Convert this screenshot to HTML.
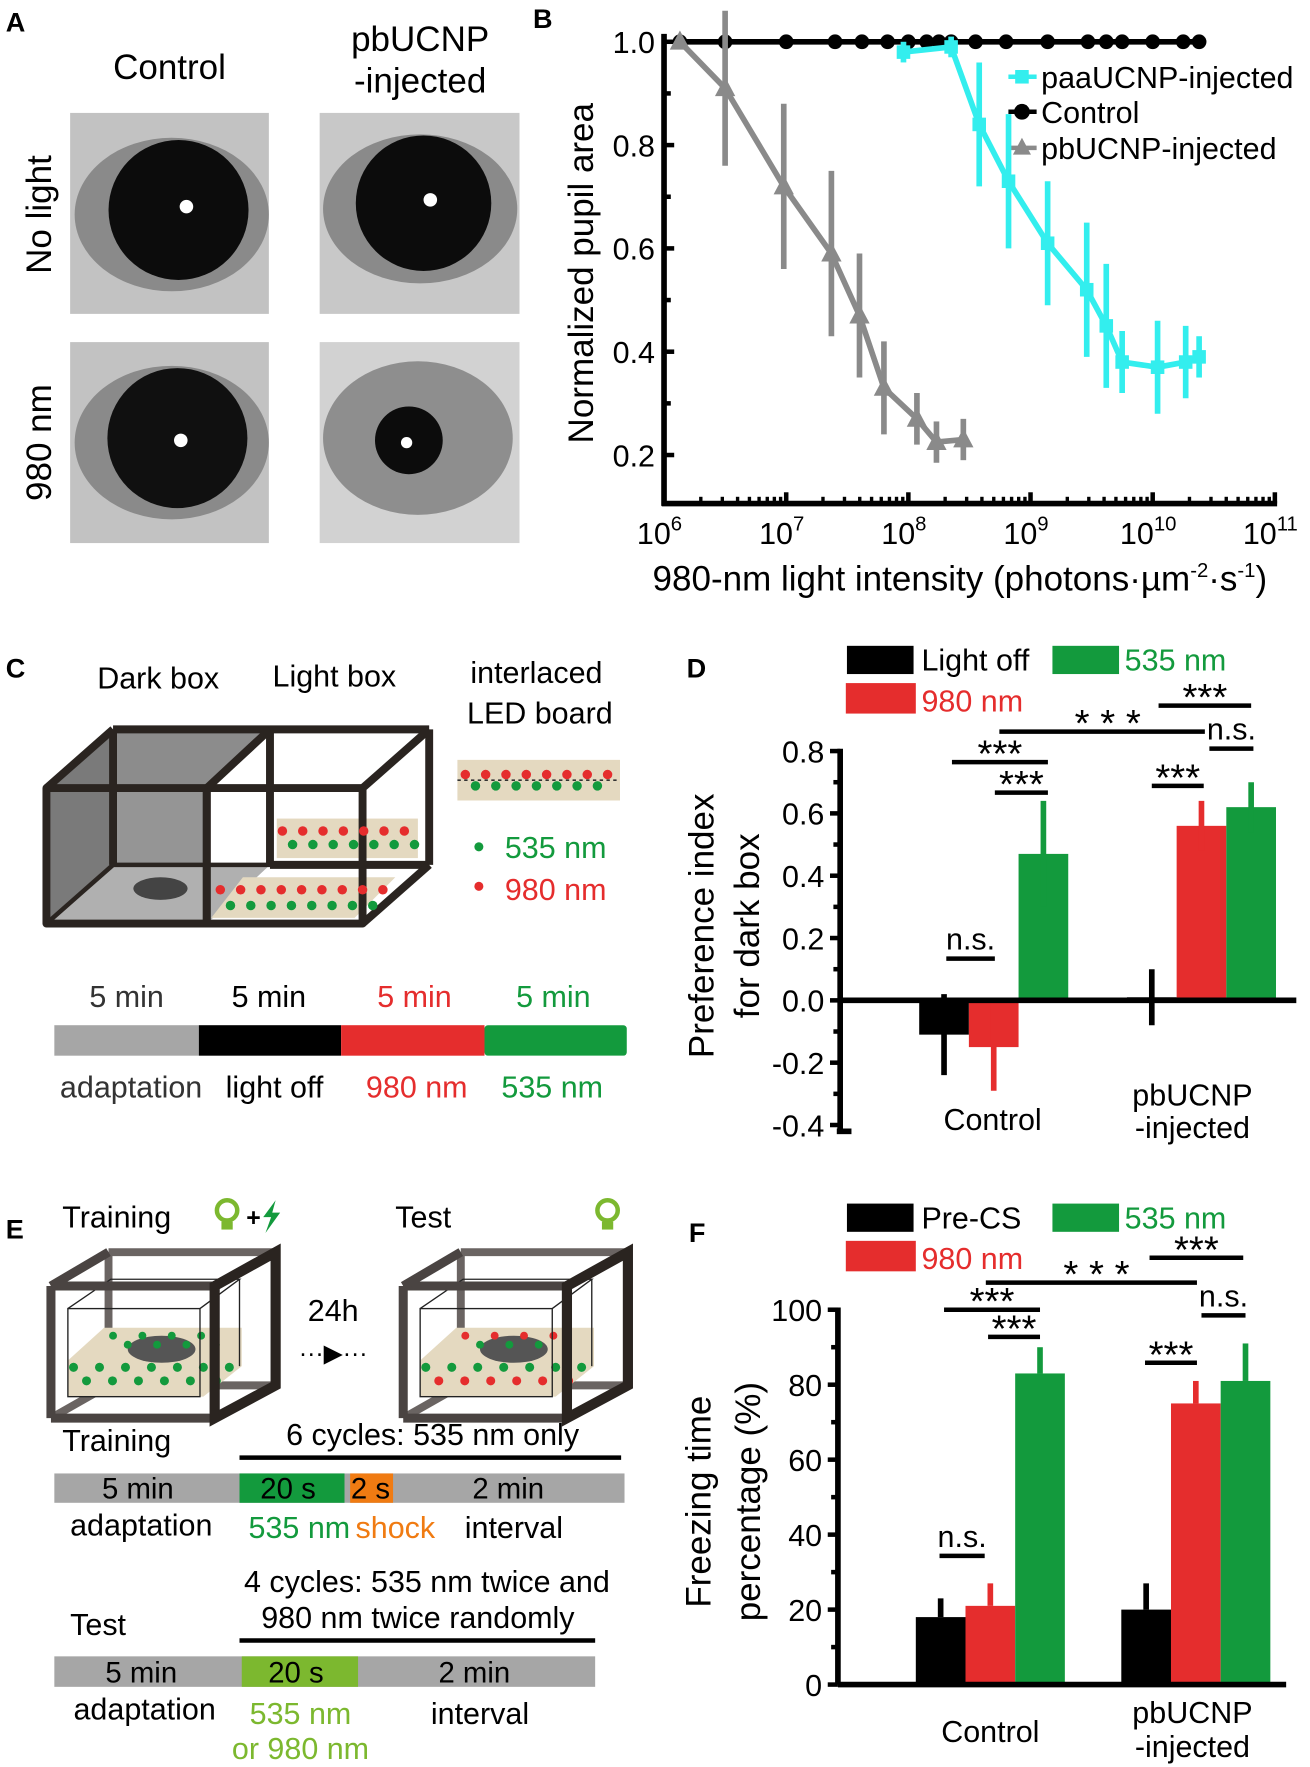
<!DOCTYPE html>
<html><head><meta charset="utf-8">
<style>
html,body{margin:0;padding:0;background:#fff;}
svg{display:block;font-family:"Liberation Sans",Arial,sans-serif;}
</style></head>
<body>
<svg id="fig" width="1310" height="1767" viewBox="0 0 1160 1565" xmlns="http://www.w3.org/2000/svg">
<rect width="1160" height="1565" fill="#fff"/>
<!-- Panel A -->
<g>
<text x="5" y="28" font-size="24" font-weight="bold">A</text>
<text x="150" y="70" font-size="31" text-anchor="middle">Control</text>
<text x="372" y="45" font-size="31" text-anchor="middle">pbUCNP</text>
<text x="372" y="82" font-size="31" text-anchor="middle">-injected</text>
<text transform="translate(45,190) rotate(-90)" font-size="31" text-anchor="middle">No light</text>
<text transform="translate(45,392) rotate(-90)" font-size="31" text-anchor="middle">980 nm</text>
<g>
<rect x="62" y="100" width="176" height="178" fill="#c2c2c2"/>
<ellipse cx="152" cy="190" rx="86" ry="68" fill="#8a8a8a"/>
<circle cx="158" cy="186" r="62" fill="#0c0c0c"/><circle cx="165" cy="183" r="6" fill="#fff"/></g>
<g>
<rect x="283" y="100" width="177" height="178" fill="#c8c8c8"/>
<ellipse cx="372" cy="185" rx="86" ry="66" fill="#8a8a8a"/>
<circle cx="375" cy="180" r="60" fill="#0c0c0c"/><circle cx="381" cy="177" r="6" fill="#fff"/></g>
<g>
<rect x="62" y="303" width="176" height="178" fill="#c2c2c2"/>
<ellipse cx="152" cy="392" rx="86" ry="68" fill="#8a8a8a"/>
<circle cx="157" cy="388" r="62" fill="#101010"/><circle cx="160" cy="390" r="6" fill="#fff"/></g>
<g>
<rect x="283" y="303" width="177" height="178" fill="#d2d2d2"/>
<ellipse cx="370" cy="388" rx="84" ry="68" fill="#8e8e8e"/>
<circle cx="362" cy="390" r="30" fill="#0c0c0c"/><circle cx="360" cy="392" r="5" fill="#fff"/></g>
</g>
<!-- Panel B -->
<g id="panelB">
<text x="472" y="25" font-size="24" font-weight="bold">B</text>
<text transform="translate(525,242) rotate(-90)" font-size="31" text-anchor="middle">Normalized pupil area</text>
<text x="850" y="523" font-size="31" text-anchor="middle">980-nm light intensity (photons·µm<tspan dy="-12" font-size="18">-2</tspan><tspan dy="12">·s</tspan><tspan dy="-12" font-size="18">-1</tspan><tspan dy="12">)</tspan></text>
<g>
<line x1="893" y1="68" x2="918" y2="68" stroke="#33eeee" stroke-width="4"/><rect x="899" y="62" width="12" height="12" fill="#33eeee"/>
<text x="922" y="78" font-size="27">paaUCNP-injected</text>
<line x1="893" y1="99" x2="918" y2="99" stroke="#000" stroke-width="4"/><circle cx="905" cy="99" r="7"/>
<text x="922" y="109" font-size="27">Control</text>
<line x1="893" y1="131" x2="918" y2="131" stroke="#8a8a8a" stroke-width="4"/><polygon points="905,122 913,137 897,137" fill="#8a8a8a"/>
<text x="922" y="141" font-size="27">pbUCNP-injected</text>
</g>
</g>
<!-- Panel C -->
<g>
<text x="5" y="600" font-size="24" font-weight="bold">C</text>
<text x="140" y="610" font-size="27" text-anchor="middle">Dark box</text>
<text x="296" y="608" font-size="27" text-anchor="middle">Light box</text>
<text x="475" y="605" font-size="27" text-anchor="middle">interlaced</text>
<text x="478" y="641" font-size="27" text-anchor="middle">LED board</text>
<g>
<polygon points="41,698 100,646 239,646 183,698" fill="#8c8c8c"/>
<rect x="41" y="698" width="142" height="120" fill="#959595"/>
<polygon points="41,698 100,646 100,766 41,818" fill="#7a7a7a"/>
<polygon points="100,766 239,766 183,818 41,818" fill="#b0b0b0"/>
<rect x="245" y="725" width="125" height="35" fill="#e4d9c0"/>
<polygon points="187,813 314,813 350,777 215,777" fill="#e4d9c0"/>
<ellipse cx="142" cy="787" rx="24" ry="10" fill="#444"/>
<g stroke="#2a2420" stroke-width="7" fill="none" stroke-linejoin="round">
<rect x="41" y="698" width="142" height="120"/>
<line x1="41" y1="698" x2="100" y2="646"/><line x1="100" y1="646" x2="380" y2="646"/><line x1="100" y1="646" x2="100" y2="766"/>
<line x1="100" y1="766" x2="239" y2="766" stroke-width="4"/>
<line x1="41" y1="818" x2="100" y2="766" stroke-width="4"/>
<rect x="183" y="698" width="138" height="120"/>
<line x1="183" y1="698" x2="239" y2="646"/><line x1="239" y1="646" x2="239" y2="766"/><line x1="239" y1="766" x2="380" y2="766"/>
<line x1="321" y1="698" x2="380" y2="646"/>
<line x1="380" y1="646" x2="380" y2="766"/><line x1="321" y1="818" x2="380" y2="766"/>
</g>
</g>
<rect x="405" y="673" width="144" height="36" fill="#e4d9c0"/>
<g id="leds"></g>
<circle cx="424" cy="750" r="4" fill="#139a3d"/><text x="447" y="760" font-size="27" fill="#139a3d">535 nm</text>
<circle cx="424" cy="785" r="4" fill="#e52d2d"/><text x="447" y="797" font-size="27" fill="#e52d2d">980 nm</text>
<text x="112" y="892" font-size="27" text-anchor="middle" fill="#333">5 min</text>
<text x="238" y="892" font-size="27" text-anchor="middle">5 min</text>
<text x="367" y="892" font-size="27" text-anchor="middle" fill="#e52d2d">5 min</text>
<text x="490" y="892" font-size="27" text-anchor="middle" fill="#139a3d">5 min</text>
<rect x="48" y="908" width="128" height="27" fill="#a6a6a6"/>
<rect x="176" y="908" width="126" height="27" fill="#000"/>
<rect x="302" y="908" width="127" height="27" fill="#e52d2d"/>
<rect x="429" y="908" width="126" height="27" fill="#139a3d" rx="3"/>
<text x="116" y="972" font-size="27" text-anchor="middle" fill="#333">adaptation</text>
<text x="243" y="972" font-size="27" text-anchor="middle">light off</text>
<text x="369" y="972" font-size="27" text-anchor="middle" fill="#e52d2d">980 nm</text>
<text x="489" y="972" font-size="27" text-anchor="middle" fill="#139a3d">535 nm</text>
</g>
<!-- Panel E -->
<g id="panelE">
<text x="5" y="1097" font-size="24" font-weight="bold">E</text>
<text x="55" y="1087" font-size="27">Training</text>
<g><circle cx="201" cy="1072" r="9" fill="none" stroke="#7cb82f" stroke-width="4"/><rect x="196" y="1082" width="10" height="7" fill="#7cb82f"/></g>
<text x="218" y="1086" font-size="22" font-weight="bold">+</text>
<polygon points="244,1063 233,1078 240,1078 235,1092 248,1074 241,1074" fill="#139a3d"/>
<text x="350" y="1087" font-size="27">Test</text>
<g><circle cx="538" cy="1072" r="9" fill="none" stroke="#7cb82f" stroke-width="4"/><rect x="533" y="1082" width="10" height="7" fill="#7cb82f"/></g>
<g id="cubes"></g>
<text x="295" y="1170" font-size="27" text-anchor="middle">24h</text>
<text x="295" y="1206" font-size="22" text-anchor="middle">···▶···</text>
<text x="55" y="1285" font-size="27">Training</text>
<text x="383" y="1280" font-size="27" text-anchor="middle">6 cycles: 535 nm only</text>
<line x1="212" y1="1291" x2="550" y2="1291" stroke="#000" stroke-width="4"/>
<rect x="48" y="1305" width="505" height="26" fill="#a6a6a6"/>
<rect x="212" y="1305" width="93" height="26" fill="#139a3d"/>
<rect x="310" y="1305" width="38" height="26" fill="#f07b12"/>
<text x="122" y="1327" font-size="26" text-anchor="middle">5 min</text>
<text x="255" y="1327" font-size="26" text-anchor="middle">20 s</text>
<text x="328" y="1327" font-size="26" text-anchor="middle">2 s</text>
<text x="450" y="1327" font-size="26" text-anchor="middle">2 min</text>
<text x="125" y="1360" font-size="27" text-anchor="middle">adaptation</text>
<text x="265" y="1362" font-size="27" text-anchor="middle" fill="#139a3d">535 nm</text>
<text x="350" y="1362" font-size="27" text-anchor="middle" fill="#f07b12">shock</text>
<text x="455" y="1362" font-size="27" text-anchor="middle">interval</text>
<text x="378" y="1410" font-size="27" text-anchor="middle">4 cycles: 535 nm twice and</text>
<text x="370" y="1442" font-size="27" text-anchor="middle">980 nm twice randomly</text>
<text x="62" y="1448" font-size="27">Test</text>
<line x1="212" y1="1453" x2="527" y2="1453" stroke="#000" stroke-width="4"/>
<rect x="48" y="1467" width="479" height="27" fill="#a6a6a6"/>
<rect x="214" y="1467" width="103" height="27" fill="#7cb82f"/>
<text x="125" y="1490" font-size="26" text-anchor="middle">5 min</text>
<text x="262" y="1490" font-size="26" text-anchor="middle">20 s</text>
<text x="420" y="1490" font-size="26" text-anchor="middle">2 min</text>
<text x="128" y="1523" font-size="27" text-anchor="middle">adaptation</text>
<text x="266" y="1527" font-size="27" text-anchor="middle" fill="#7cb82f">535 nm</text>
<text x="266" y="1558" font-size="27" text-anchor="middle" fill="#7cb82f">or 980 nm</text>
<text x="425" y="1527" font-size="27" text-anchor="middle">interval</text>
</g>
<g id="panelD">
<text x="608" y="600" font-size="24" font-weight="bold">D</text>
<text transform="translate(632,820) rotate(-90)" font-size="31" text-anchor="middle">Preference index</text>
<text transform="translate(672,820) rotate(-90)" font-size="31" text-anchor="middle">for dark box</text>
</g>
<g id="panelF">
<text x="610" y="1100" font-size="24" font-weight="bold">F</text>
<text transform="translate(629,1330) rotate(-90)" font-size="31" text-anchor="middle">Freezing time</text>
<text transform="translate(673,1330) rotate(-90)" font-size="31" text-anchor="middle">percentage (%)</text>
</g>
</svg>
<script>
const NS="http://www.w3.org/2000/svg";
function mk(parent,tag,attrs,txt){const e=document.createElementNS(NS,tag);for(const k in attrs)e.setAttribute(k,attrs[k]);if(txt!==undefined)e.textContent=txt;parent.appendChild(e);return e;}

// ---------- Panel B data ----------
const ctrlLogX=[6.13,6.5,7.0,7.4,7.62,7.83,8.0,8.15,8.25,8.35,8.55,8.8,9.14,9.47,9.62,9.75,10.0,10.25,10.38];
const ctrlY=[1,1,1,1,1,1,1,1,1,1,1,1,1,1,1,1,1,1,1];
const pbLogX=[6.13,6.5,6.98,7.37,7.6,7.8,8.07,8.23,8.45];
const pbY=[1.0,0.91,0.72,0.59,0.47,0.33,0.27,0.225,0.23];
const pbErr=[0,0.15,0.16,0.16,0.12,0.09,0.05,0.04,0.04];
const paaLogX=[7.96,8.35,8.58,8.82,9.14,9.46,9.62,9.75,10.04,10.27,10.38];
const paaY=[0.98,0.99,0.84,0.73,0.61,0.52,0.45,0.38,0.37,0.38,0.39];
const paaErr=[0.02,0.02,0.12,0.13,0.12,0.13,0.12,0.06,0.09,0.07,0.04];
const bYTicks=[0.2,0.4,0.6,0.8,1.0];
const bXTicks=[6,7,8,9,10,11];

(function(){
 const g=document.getElementById('panelB');
 const X=v=>588+(v-6)*108.2, Y=v=>37+(1-v)*457.5;
 mk(g,'line',{x1:588,y1:30,x2:588,y2:448,stroke:'#000','stroke-width':5});
 mk(g,'line',{x1:586,y1:446,x2:1131,y2:446,stroke:'#000','stroke-width':5});
 bYTicks.forEach(t=>{mk(g,'line',{x1:588,y1:Y(t),x2:597,y2:Y(t),stroke:'#000','stroke-width':4});
  const tx=mk(g,'text',{x:580,y:Y(t)+10,'font-size':27,'text-anchor':'end'},t.toFixed(1));
  
  });
 [0.3,0.5,0.7,0.9].forEach(t=>mk(g,'line',{x1:588,y1:Y(t),x2:594,y2:Y(t),stroke:'#000','stroke-width':4}));
 bXTicks.forEach(d=>{
  if(d<11)for(let m=2;m<10;m++){const x=X(d+Math.log10(m));mk(g,'line',{x1:x,y1:446,x2:x,y2:440,stroke:'#000','stroke-width':3});}
  mk(g,'line',{x1:X(d),y1:446,x2:X(d),y2:436,stroke:'#000','stroke-width':4});
  const tx=mk(g,'text',{x:X(d)-4,y:482,'font-size':27,'text-anchor':'middle'});
  
  
  mk(tx,'tspan',{},'10');mk(tx,'tspan',{dy:-12,'font-size':18},String(d));
 });
 function series(lx,ly,err,col,shape,name){
  const s=mk(g,'g',{});
  
  
  mk(s,'polyline',{points:lx.map((v,i)=>X(v)+','+Y(ly[i])).join(' '),fill:'none',stroke:col,'stroke-width':5});
  lx.forEach((v,i)=>{const x=X(v),y=Y(ly[i]);
   if(err&&err[i])mk(s,'line',{x1:x,y1:Y(ly[i]+err[i]),x2:x,y2:Y(ly[i]-err[i]),stroke:col,'stroke-width':5});
   if(shape==='c')mk(s,'circle',{cx:x,cy:y,r:6.5,fill:col});
   else if(shape==='s')mk(s,'rect',{x:x-6,y:y-6,width:12,height:12,fill:col});
   else mk(s,'polygon',{points:`${x},${y-10} ${x+9},${y+7} ${x-9},${y+7}`,fill:col});
  });
 }
 series(ctrlLogX,ctrlY,null,'#000','c','control-series');
 series(pbLogX,pbY,pbErr,'#8a8a8a','t','pbucnp-series');
 series(paaLogX,paaY,paaErr,'#33eeee','s','paaucnp-series');
})();

// ---------- Panel D data ----------
const dGroups=['Control','pbUCNP'];
const dLightOff=[-0.11,0.01];
const dLightOffErr=[0.13,0.09];
const d980=[-0.15,0.56];
const d980Err=[0.14,0.08];
const d535=[0.47,0.62];
const d535Err=[0.17,0.08];
const dTicks=[-0.4,-0.2,0.0,0.2,0.4,0.6,0.8];

// ---------- Panel F data ----------
const fPreCS=[18,20];
const fPreCSErr=[5,7];
const f980=[21,75];
const f980Err=[6,6];
const f535=[83,81];
const f535Err=[7,10];
const fTicks=[0,20,40,60,80,100];

function barChart(id,cfg){
 const g=document.getElementById(id);
 const Y=cfg.Y;
 mk(g,'line',{x1:cfg.ax,y1:Y(cfg.top)-2,x2:cfg.ax,y2:cfg.bottom,stroke:'#000','stroke-width':5});
 if(cfg.zeroLine)mk(g,'line',{x1:cfg.ax-3,y1:cfg.bottom,x2:cfg.ax+10,y2:cfg.bottom,stroke:'#000','stroke-width':5});
 cfg.ticks.forEach((t,i)=>{mk(g,'line',{x1:cfg.ax,y1:Y(t),x2:cfg.ax-9,y2:Y(t),stroke:'#000','stroke-width':4});
  if(i<cfg.ticks.length-1){const m=(t+cfg.ticks[i+1])/2;mk(g,'line',{x1:cfg.ax,y1:Y(m),x2:cfg.ax-6,y2:Y(m),stroke:'#000','stroke-width':4});}
  const tx=mk(g,'text',{x:cfg.ax-14,y:Y(t)+10,'font-size':27,'text-anchor':'end'},cfg.fmt(t));
  
  });
 const cols=['#000','#e52d2d','#139a3d'];
 cfg.series.forEach((s,si)=>{
  s.v.forEach((v,gi)=>{
   const x0=cfg.gx[gi]+si*cfg.bw, y0=Y(0), y1=Y(v);
   const r=mk(g,'rect',{x:x0,y:Math.min(y0,y1),width:cfg.bw,height:Math.abs(y0-y1),fill:cols[si]});
   
   
   const xc=x0+cfg.bw/2;
   const lo=cfg.bothErr?v-s.e[gi]:v, hi=v+s.e[gi];
   mk(g,'line',{x1:xc,y1:Y(lo),x2:xc,y2:Y(hi),stroke:cols[si],'stroke-width':5});
  });
 });
 mk(g,'line',{x1:cfg.ax,y1:Y(0),x2:cfg.zeroEnd,y2:Y(0),stroke:'#000','stroke-width':5});
}

barChart('panelD',{Y:v=>886-v*276,top:0.8,bottom:1002,ax:744,ticks:dTicks,fmt:t=>t.toFixed(1),
 gx:[814,998],bw:44,names:['light-off','980','535'],zeroLine:true,bothErr:true,zeroEnd:1148,
 series:[{v:dLightOff,e:dLightOffErr},{v:d980,e:d980Err},{v:d535,e:d535Err}]});
barChart('panelF',{Y:v=>1492-v*3.32,top:100,bottom:1492,ax:742,ticks:fTicks,fmt:t=>String(t),
 gx:[811,993],bw:44,names:['pre-cs','980','535'],zeroLine:false,bothErr:false,zeroEnd:1139,
 series:[{v:fPreCS,e:fPreCSErr},{v:f980,e:f980Err},{v:f535,e:f535Err}]});

function legendAndSig(id,l1,y0,sig){
 const g=document.getElementById(id);
 const L=mk(g,'g',{});
 
 
 mk(L,'rect',{x:750,y:y0-12,width:59,height:25,fill:'#000'});
 mk(L,'text',{x:816,y:y0+10,'font-size':27},l1);
 mk(L,'rect',{x:932,y:y0-12,width:59,height:25,fill:'#139a3d'});
 mk(L,'text',{x:996,y:y0+10,'font-size':27,fill:'#139a3d'},'535 nm');
 mk(L,'rect',{x:749,y:y0+21,width:62,height:27,fill:'#e52d2d'});
 mk(L,'text',{x:816,y:y0+46,'font-size':27,fill:'#e52d2d'},'980 nm');
 sig.forEach(s=>{
  mk(g,'line',{x1:s[0],y1:s[2],x2:s[1],y2:s[2],stroke:'#000','stroke-width':4});
  const ns=s[3]==='n.s.';
  const t=mk(g,'text',{x:s[4]||(s[0]+s[1])/2,y:ns?s[2]-8:s[2]+4,'font-size':ns?27:34,'text-anchor':'middle'},s[3]);
  
  
 });
}
legendAndSig('panelD','Light off',584,[
 [838,881,849,'n.s.'],[881,928,702,'***'],[843,928,675,'***'],[1020,1066,696,'***'],
 [1071,1110,663,'n.s.'],[1026,1108,625,'***'],[885,1067,648,'*   *   *',981]]);
legendAndSig('panelF','Pre-CS',1078,[
 [832,872,1378,'n.s.'],[875,921,1184,'***'],[836,921,1160,'***'],[1014,1060,1207,'***'],
 [1064,1103,1165,'n.s.'],[1018,1101,1114,'***'],[873,1060,1136,'*   *   *',971]]);
(function(){
 [['panelD',[[879,1001,'Control'],[1056,979,'pbUCNP'],[1056,1008,'-injected']]],['panelF',[[877,1543,'Control'],[1056,1526,'pbUCNP'],[1056,1556,'-injected']]]].forEach(p=>{
  const g=document.getElementById(p[0]);
  p[1].forEach(c=>{const t=mk(g,'text',{x:c[0],y:c[1],'font-size':27,'text-anchor':'middle'},c[2]);
   
   });
 });
})();

// LEDs decoration
(function(){
 const g=document.getElementById('leds');
 function row(x0,x1,y,dy){for(let x=x0,i=0;x<x1;x+=9,i++){mk(g,'circle',{cx:x,cy:y+(i%2?dy:-dy),r:4.2,fill:i%2?'#139a3d':'#e52d2d'});}}
 row(412,546,691,5);row(250,368,742,6);row(195,345,795,7);
 mk(g,'line',{x1:405,y1:691,x2:549,y2:691,stroke:'#333','stroke-width':1.5,'stroke-dasharray':'3,3'});
})();
// cubes panel E
(function(){
 const g=document.getElementById('cubes');
 [0,312].forEach((ox,ci)=>{
  const c=mk(g,'g',{});
  
  
  const back={stroke:'#6a6462','stroke-width':7,fill:'none'};
  mk(c,'line',Object.assign({x1:ox+96,y1:1109,x2:ox+244,y2:1109},back));
  mk(c,'line',Object.assign({x1:ox+96,y1:1109,x2:ox+96,y2:1227},back));
  mk(c,'line',Object.assign({x1:ox+96,y1:1227,x2:ox+244,y2:1227},back));
  mk(c,'line',Object.assign({x1:ox+45,y1:1256,x2:ox+96,y2:1227},back));
  mk(c,'polygon',{points:`${ox+60},${1237} ${ox+180},${1237} ${ox+214},${1210} ${ox+214},${1176} ${ox+92},${1176} ${ox+60},${1205}`,fill:'#e4d9c0'});
  mk(c,'ellipse',{cx:ox+143,cy:1195,rx:30,ry:12,fill:'#555'});
  for(let i=0;i<13;i++){mk(c,'circle',{cx:ox+65+i*11.5,cy:1215+(i%2?8:-4),r:4,fill:(ci===1&&i%2)?'#e52d2d':'#139a3d'});}
  for(let i=0;i<8;i++){mk(c,'circle',{cx:ox+100+i*13,cy:1187+(i%2?4:-4),r:3.5,fill:(ci===1&&i%2===0)?'#e52d2d':'#139a3d'});}
  mk(c,'rect',{x:ox+60,y:1159,width:117,height:78,fill:'none',stroke:'#222','stroke-width':1.2});
  mk(c,'polyline',{points:`${ox+60},1159 ${ox+98},1133 ${ox+212},1133 ${ox+177},1159`,fill:'none',stroke:'#222','stroke-width':1.2});
  mk(c,'line',{x1:ox+212,y1:1133,x2:ox+212,y2:1210,stroke:'#222','stroke-width':1.2});
  const front={stroke:'#4a4442','stroke-width':8,fill:'none'};
  mk(c,'line',Object.assign({x1:ox+45,y1:1139,x2:ox+190,y2:1139},front));
  mk(c,'line',Object.assign({x1:ox+45,y1:1139,x2:ox+45,y2:1256},front));
  mk(c,'line',Object.assign({x1:ox+45,y1:1256,x2:ox+190,y2:1256},front));
  mk(c,'line',Object.assign({x1:ox+45,y1:1139,x2:ox+96,y2:1109},front));
  const dark={stroke:'#2a2420','stroke-width':9,fill:'none'};
  mk(c,'polygon',Object.assign({points:`${ox+190},1139 ${ox+244},1109 ${ox+244},1227 ${ox+190},1256`},dark));
 });
})();
</script>
</body></html>
